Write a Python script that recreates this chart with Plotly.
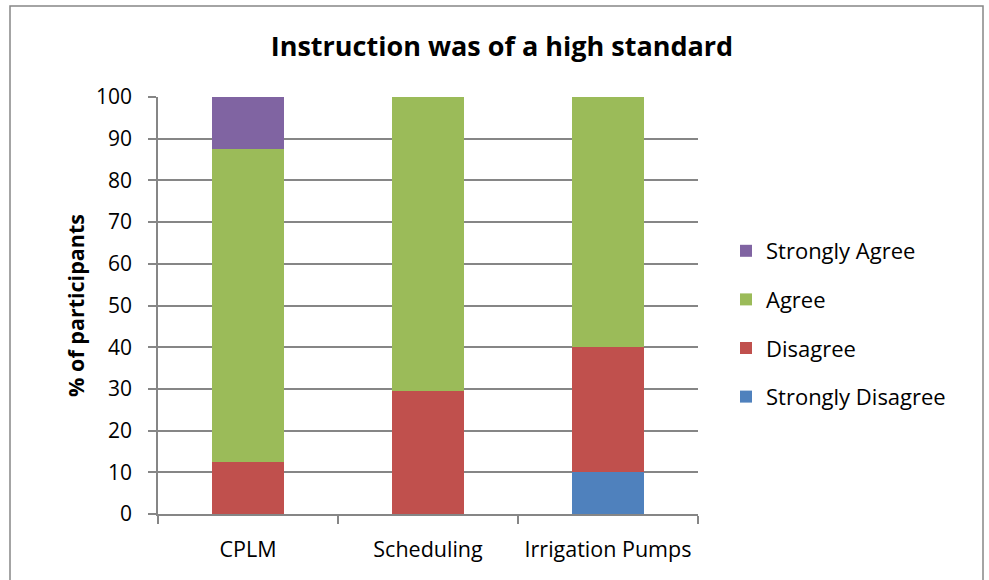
import plotly.graph_objects as go

categories = ["CPLM", "Scheduling", "Irrigation Pumps"]
strongly_disagree = [0, 0, 10]
disagree = [12.5, 29.4, 30]
agree = [75, 70.6, 60]
strongly_agree = [12.5, 0, 0]

series = [
    ("Strongly Disagree", strongly_disagree, "#4F81BD", 4),
    ("Disagree", disagree, "#C0504D", 3),
    ("Agree", agree, "#9BBB59", 2),
    ("Strongly Agree", strongly_agree, "#8064A2", 1),
]

W, H = 989, 580
L, R, T, B = 158, 698, 97, 514

fig = go.Figure()
for name, vals, col, rank in series:
    fig.add_trace(go.Bar(x=categories, y=vals, name=name, legendgroup=name,
                         legendrank=rank,
                         marker=dict(color=col, line=dict(width=0))))

def px2x(px):
    return (px - L) / (R - L)

def py2y(py):
    return (B - py) / (B - T)

FONT = "Open Sans, sans-serif"

fig.update_layout(
    width=W, height=H,
    margin=dict(l=L, r=W - R, t=T, b=H - B, autoexpand=False),
    barmode="stack",
    bargap=0.6,
    plot_bgcolor="white",
    paper_bgcolor="white",
    font=dict(family=FONT, size=22, color="black"),
    title=dict(text="<b>Instruction was of a high standard</b>",
               x=502 / W, xanchor="center", y=1 - 47 / H, yanchor="middle",
               font=dict(size=27, family=FONT)),
    xaxis=dict(showline=True, linecolor="#868686", linewidth=1.5,
               ticks="outside", tickson="boundaries", ticklen=8,
               tickcolor="#868686", tickwidth=1.5,
               ticklabelstandoff=15, tickangle=0,
               tickfont=dict(size=21.5), showgrid=False),
    yaxis=dict(range=[0, 100], dtick=10, showline=True, linecolor="#868686",
               linewidth=1.5, ticks="outside", ticklen=8, tickcolor="#868686",
               tickwidth=1.5, showgrid=True, gridcolor="#868686", gridwidth=1.5,
               ticklabelstandoff=12,
               tickfont=dict(size=21),
               title=dict(text="<b>% of participants</b>", font=dict(size=21.5),
                          standoff=5)),
    legend=dict(x=px2x(726), xanchor="left", y=py2y(324), yanchor="middle",
                traceorder="grouped", tracegroupgap=17,
                font=dict(size=22, family=FONT), bgcolor="rgba(0,0,0,0)"),
    shapes=[dict(type="rect", xref="paper", yref="paper",
                 x0=px2x(10), x1=px2x(983), y0=py2y(582), y1=py2y(6),
                 line=dict(color="#868686", width=1.5), fillcolor="rgba(0,0,0,0)",
                 layer="below")],
)

fig.write_html("out.html", config={"displayModeBar": False},
               post_script="document.body.style.margin='0';document.body.style.overflow='hidden';")
